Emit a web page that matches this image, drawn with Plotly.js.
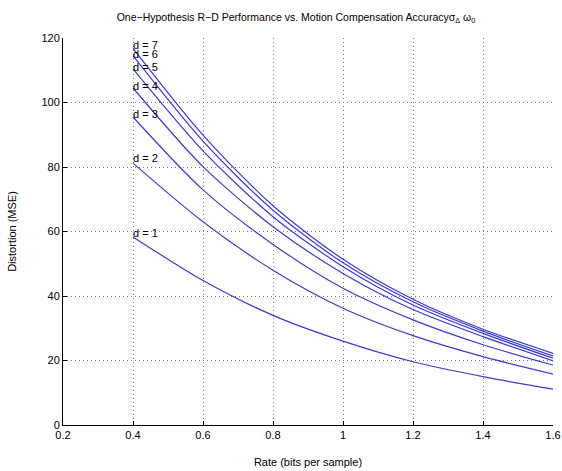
<!DOCTYPE html>
<html>
<head>
<meta charset="utf-8">
<script src="https://cdn.plot.ly/plotly-3.0.1.min.js"></script>
<style>html,body{margin:0;padding:0;background:#fff}#chart{width:562px;height:471px}</style>
</head>
<body>
<div id="chart"></div>
<script>
const rate = [0.4, 0.6, 0.8, 1.0, 1.2, 1.4, 1.6];
const d1 = [58.3, 44.8, 34.0, 26.0, 19.6, 15.0, 11.1];
const d2 = [81.2, 63.0, 48.0, 36.2, 27.7, 21.2, 15.8];
const d3 = [95.5, 72.9, 56.0, 42.4, 32.6, 24.9, 18.6];
const d4 = [104.5, 80.1, 61.5, 47.0, 35.8, 27.4, 19.9];
const d5 = [110.4, 85.0, 64.6, 49.1, 37.2, 28.4, 20.7];
const d6 = [114.5, 88.0, 66.6, 50.3, 38.2, 29.1, 21.4];
const d7 = [116.8, 89.9, 68.0, 51.4, 39.0, 29.7, 22.2];
const seriesNames = ['d = 1','d = 2','d = 3','d = 4','d = 5','d = 6','d = 7'];
const labelY = [59.6, 82.8, 96.3, 105.2, 111.1, 114.9, 117.7];
const xTicks = [0.2, 0.4, 0.6, 0.8, 1, 1.2, 1.4, 1.6];
const yTicks = [0, 20, 40, 60, 80, 100, 120];

const allSeries = [d1, d2, d3, d4, d5, d6, d7];
const traces = allSeries.map((ys, i) => ({
  x: rate, y: ys, type: 'scatter', mode: 'lines', name: seriesNames[i],
  line: {color: '#3a3ad6', width: 1.2, shape: 'spline', smoothing: 0.8},
  hoverinfo: 'skip'
}));

const annotations = seriesNames.map((t, i) => ({
  x: rate[0], y: labelY[i], xref: 'x', yref: 'y', text: t, showarrow: false,
  xanchor: 'left', yanchor: 'middle', xshift: -2,
  font: {family: 'Liberation Sans, Arial, sans-serif', size: 11, color: '#000'}
}));

const font = {family: 'Liberation Sans, Arial, sans-serif', size: 11, color: '#000'};
const layout = {
  width: 562, height: 471,
  margin: {l: 63, r: 9, t: 38, b: 46},
  paper_bgcolor: '#fff', plot_bgcolor: '#fff',
  showlegend: false, font: font,
  title: {
    text: 'One\u2212Hypothesis R\u2212D Performance vs. Motion Compensation Accuracy\u03c3<sub>\u0394</sub> \u03c9<sub>0</sub>',
    font: {family: 'Liberation Sans, Arial, sans-serif', size: 10.5, color: '#000'},
    x: 296/562, xref: 'container', xanchor: 'center', y: 1 - 17/471, yref: 'container', yanchor: 'middle'
  },
  xaxis: {
    range: [0.2, 1.6], tickvals: xTicks, ticktext: xTicks.map(String),
    showline: true, linecolor: '#000', linewidth: 1, mirror: false,
    ticks: 'inside', ticklen: 4, tickcolor: '#000',
    showgrid: true, gridcolor: '#777', griddash: '1px,3px', gridwidth: 1,
    zeroline: false, tickfont: font,
    title: {text: 'Rate (bits per sample)', font: font, standoff: 18}
  },
  yaxis: {
    range: [0, 120], tickvals: yTicks, ticktext: yTicks.map(String),
    showline: true, linecolor: '#000', linewidth: 1, mirror: false,
    ticks: 'inside', ticklen: 4, tickcolor: '#000',
    showgrid: true, gridcolor: '#777', griddash: '1px,3px', gridwidth: 1,
    zeroline: false, tickfont: font,
    title: {text: 'Distortion (MSE)', font: font, standoff: 22}
  },
  annotations: annotations
};
Plotly.newPlot('chart', traces, layout, {staticPlot: true, displayModeBar: false});
</script>
</body>
</html>
